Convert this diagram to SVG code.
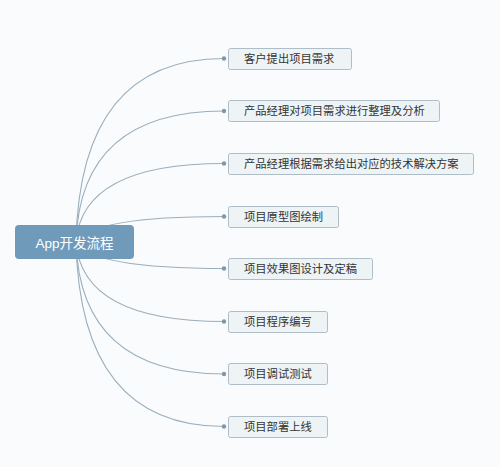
<svg xmlns="http://www.w3.org/2000/svg" width="500" height="467" viewBox="0 0 500 467">
<style>
.c{fill:none;stroke:#9aaebd;stroke-width:1.1}
.d{fill:#7d97ab}
.b{fill:#eef3f6;stroke:#aebdc8;stroke-width:1}
.t{font-family:"Noto Sans CJK SC","Liberation Sans",sans-serif;font-size:11.3px;fill:#333}
.rt{font-family:"Liberation Sans","Noto Sans CJK SC",sans-serif;font-size:13.5px;fill:#fff}
</style>
<rect width="500" height="467" fill="#fafbfc"/>
<g id="connectors">
<path class="c" d="M76,242 Q80,58.5 224,58.5"/>
<path class="c" d="M76,242 Q80,111 224,111"/>
<path class="c" d="M76,242 Q82,163.5 224,163.5"/>
<path class="c" d="M76,242 Q92,216.5 224,216.5"/>
<path class="c" d="M76,242 Q92,268.5 224,268.5"/>
<path class="c" d="M76,242 Q82,321.5 224,321.5"/>
<path class="c" d="M76,242 Q80,374 224,374"/>
<path class="c" d="M76,242 Q80,426.5 224,426.5"/>
<circle class="d" cx="224" cy="58.5" r="2.2"/>
<circle class="d" cx="224" cy="111" r="2.2"/>
<circle class="d" cx="224" cy="163.5" r="2.2"/>
<circle class="d" cx="224" cy="216.5" r="2.2"/>
<circle class="d" cx="224" cy="268.5" r="2.2"/>
<circle class="d" cx="224" cy="321.5" r="2.2"/>
<circle class="d" cx="224" cy="374" r="2.2"/>
<circle class="d" cx="224" cy="426.5" r="2.2"/>
</g>
<g id="root">
<rect x="15" y="225" width="119" height="34" rx="4" fill="#6f9aba"/>
<text class="rt" x="74.5" y="247.5" text-anchor="middle">App开发流程</text>
</g>
<g id="n1"><rect class="b" x="228.5" y="48.5" width="123" height="21" rx="2"/><text class="t" x="244" y="62.8">客户提出项目需求</text></g>
<g id="n2"><rect class="b" x="228.5" y="100.5" width="211" height="21" rx="2"/><text class="t" x="244" y="115.3">产品经理对项目需求进行整理及分析</text></g>
<g id="n3"><rect class="b" x="228.5" y="153.5" width="245" height="21" rx="2"/><text class="t" x="244" y="167.8">产品经理根据需求给出对应的技术解决方案</text></g>
<g id="n4"><rect class="b" x="228.5" y="206.5" width="110" height="21" rx="2"/><text class="t" x="244" y="220.8">项目原型图绘制</text></g>
<g id="n5"><rect class="b" x="228.5" y="258.5" width="144" height="21" rx="2"/><text class="t" x="244" y="272.8">项目效果图设计及定稿</text></g>
<g id="n6"><rect class="b" x="228.5" y="311.5" width="99" height="21" rx="2"/><text class="t" x="244" y="325.8">项目程序编写</text></g>
<g id="n7"><rect class="b" x="228.5" y="363.5" width="99" height="21" rx="2"/><text class="t" x="244" y="378.3">项目调试测试</text></g>
<g id="n8"><rect class="b" x="228.5" y="416.5" width="99" height="21" rx="2"/><text class="t" x="244" y="430.8">项目部署上线</text></g>
</svg>
